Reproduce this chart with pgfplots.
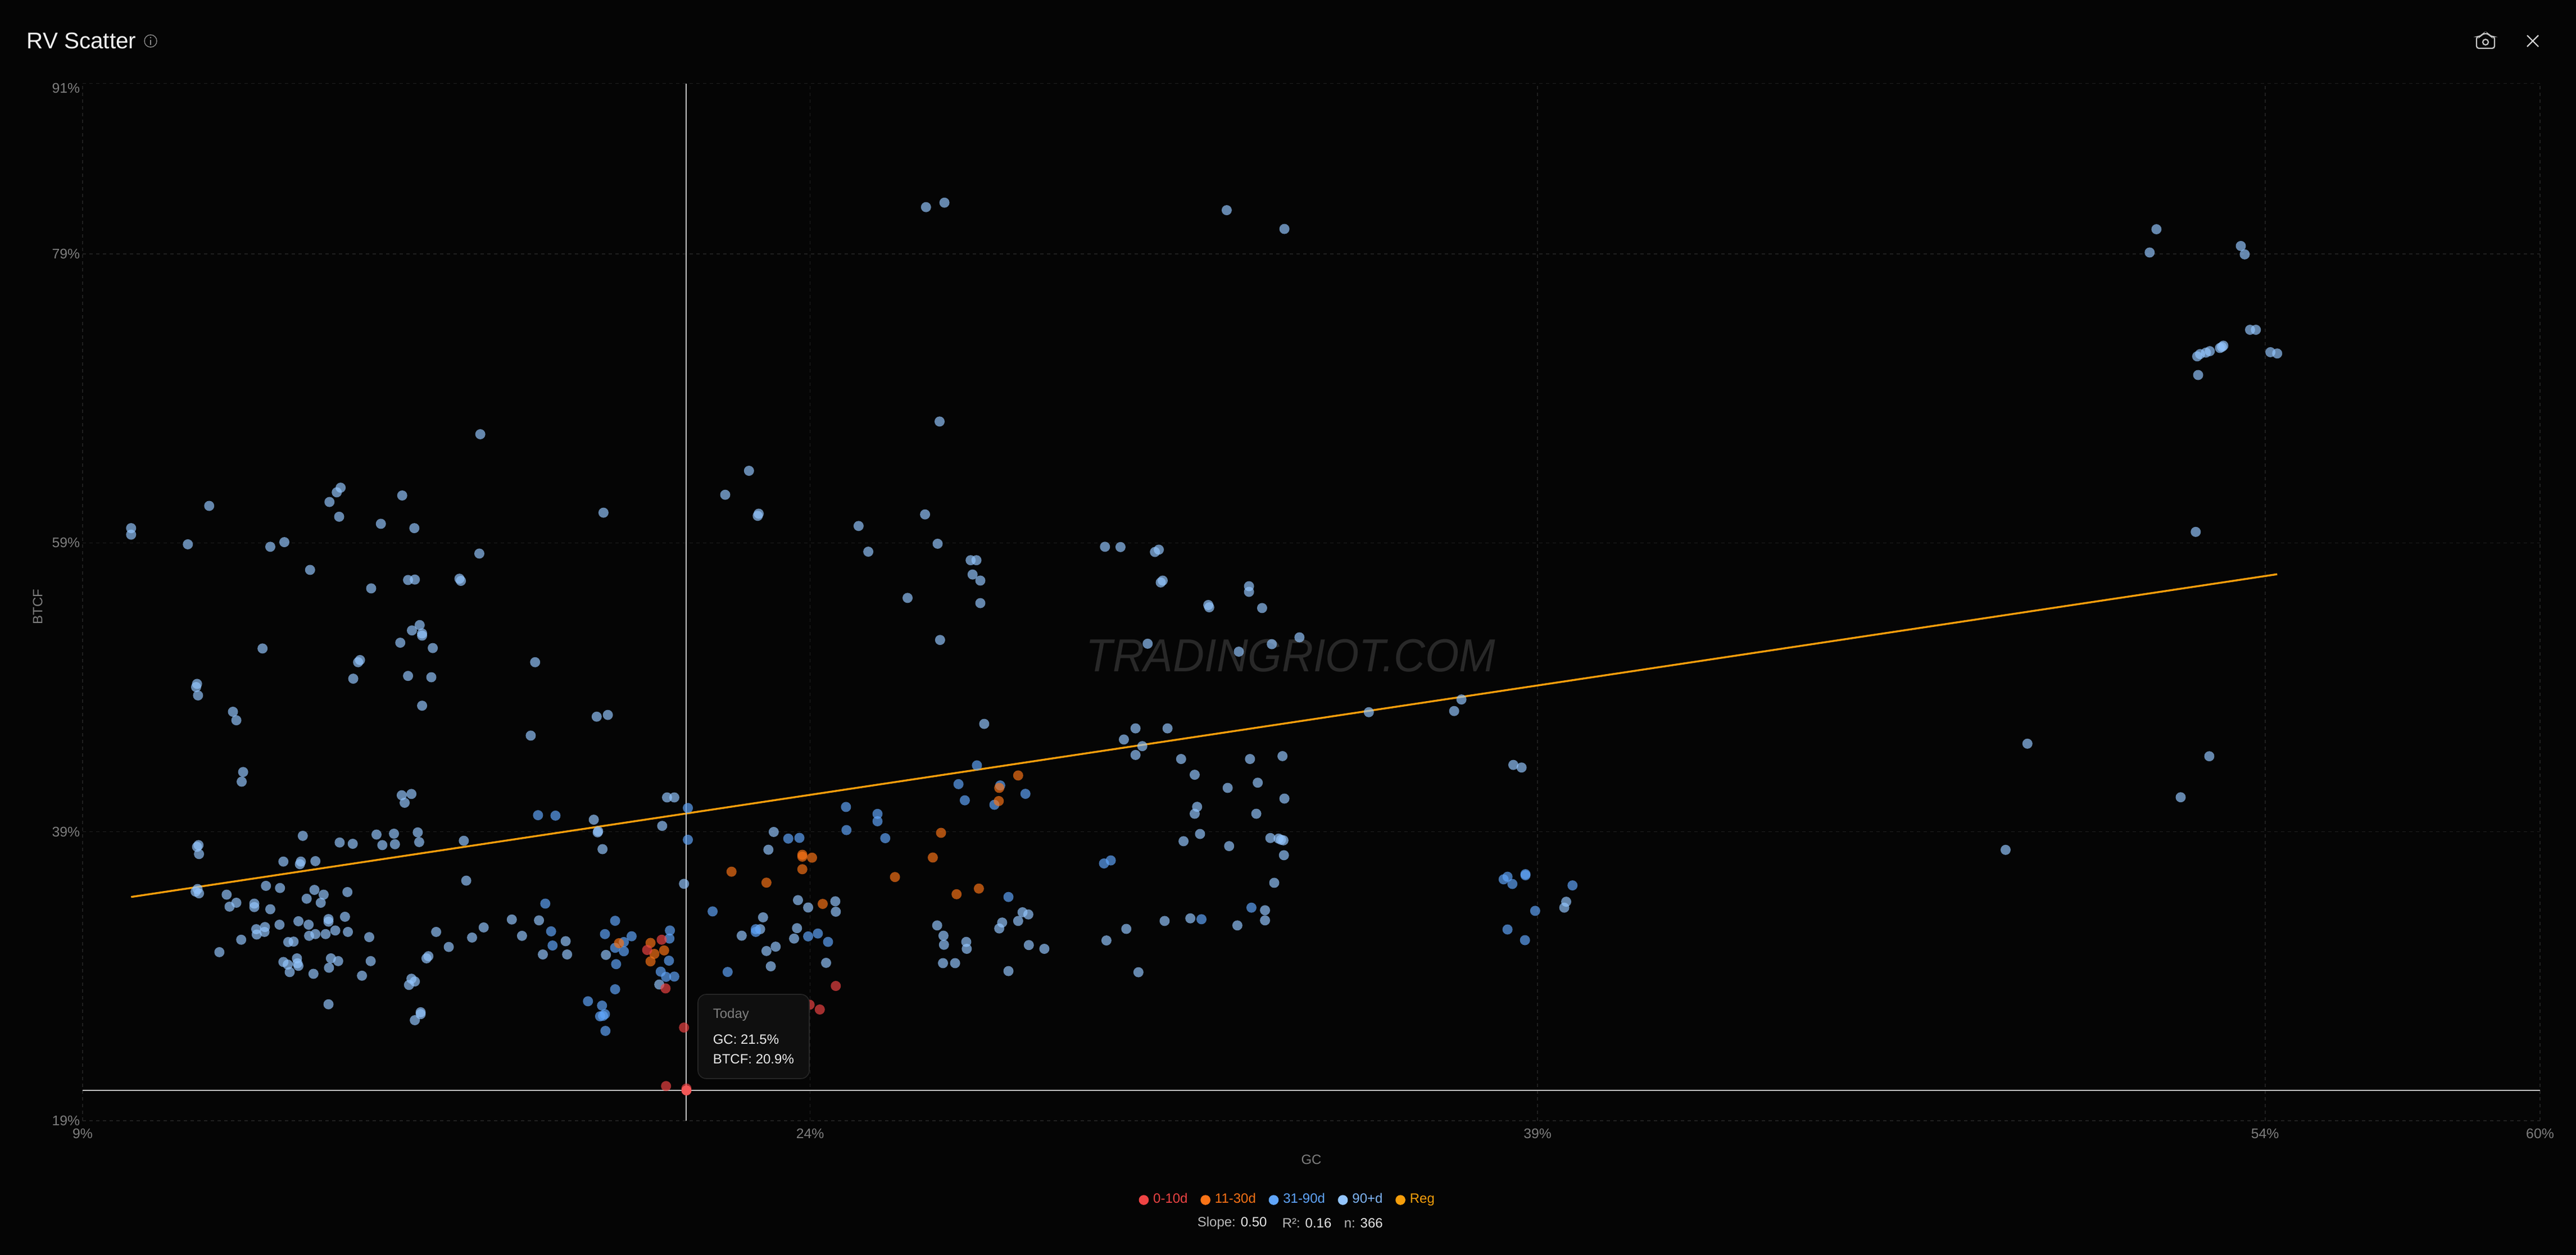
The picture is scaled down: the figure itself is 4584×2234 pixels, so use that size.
\documentclass[border=0pt]{standalone}
\usepackage{pgfplots}
\pgfplotsset{compat=1.18}
\usepackage{pgfplotstable}
\usepackage{fontspec}
\setmainfont{Liberation Sans}
\definecolor{bgc}{HTML}{050505}
\definecolor{gridc}{HTML}{202020}
\definecolor{tickc}{HTML}{7E7E7E}
\definecolor{cRed}{HTML}{EF4444}
\definecolor{cOrg}{HTML}{F97316}
\definecolor{cBlu}{HTML}{60A5FA}
\definecolor{cLig}{HTML}{93C5FD}
\definecolor{cReg}{HTML}{F59E0B}
\definecolor{cLigT}{HTML}{7FB5F5}
\definecolor{crossc}{HTML}{C4C4C4}

\pgfplotstableread{
x y
17.20 66.52
14.32 62.82
14.24 62.50
14.09 61.83
14.29 60.81
15.59 62.28
15.15 60.32
15.84 60.02
19.74 61.09
11.61 61.56
10.00 60.02
10.00 59.57
11.17 58.90
12.87 58.73
13.16 59.05
17.18 58.26
13.69 57.13
15.71 56.43
15.85 56.46
14.95 55.85
16.77 56.52
16.80 56.37
15.95 53.31
15.79 52.94
16.00 52.73
16.00 52.58
15.55 52.09
16.22 51.72
12.71 51.69
14.72 50.89
14.68 50.74
18.33 50.74
15.71 49.79
16.19 49.70
14.58 49.60
11.36 49.24
11.34 49.02
11.38 48.44
16.00 47.73
19.60 46.97
19.83 47.09
12.10 47.31
12.17 46.72
18.24 45.66
12.31 43.14
12.28 42.47
15.58 41.53
15.78 41.62
15.64 41.01
21.05 41.38
21.20 41.38
19.54 39.84
20.95 39.41
19.63 39.04
19.62 38.96
13.54 38.72
15.06 38.81
15.42 38.87
15.91 38.96
15.94 38.29
16.86 38.38
14.57 38.17
14.30 38.26
15.18 38.08
15.44 38.14
19.72 37.80
11.39 38.08
11.36 37.96
11.40 37.46
13.14 36.94
13.50 36.94
13.48 36.76
13.80 36.97
16.91 35.62
12.78 35.26
13.07 35.11
13.78 34.98
13.97 34.65
14.46 34.83
11.37 35.04
11.33 34.86
11.40 34.74
11.97 34.65
13.62 34.37
12.17 34.09
12.54 34.03
13.91 34.09
12.03 33.82
12.54 33.79
12.87 33.64
14.41 33.12
14.07 32.96
14.07 32.78
13.45 32.81
13.06 32.57
13.66 32.57
12.76 32.41
12.58 32.26
12.75 32.07
12.59 31.89
13.67 31.80
13.80 31.92
14.01 31.92
14.21 32.17
14.47 32.07
14.91 31.71
12.27 31.53
13.24 31.37
13.35 31.40
11.82 30.67
16.29 32.07
16.55 31.03
17.03 31.68
17.27 32.38
17.85 32.93
18.06 31.80
18.41 32.87
18.96 31.43
18.49 30.51
18.99 30.51
13.42 30.24
14.12 30.24
14.27 30.05
14.94 30.05
13.14 29.99
13.23 29.81
13.43 29.90
13.45 29.72
14.08 29.59
13.27 29.29
13.76 29.17
14.76 29.04
16.13 30.39
16.09 30.24
15.78 28.83
15.85 28.64
15.73 28.40
14.07 27.06
15.97 26.51
15.97 26.38
15.85 25.96
19.79 30.48
20.89 28.43
21.40 35.40
23.25 38.99
23.14 37.76
23.75 34.27
23.96 33.76
24.52 34.19
24.53 33.47
23.03 33.08
28.38 33.43
28.50 33.28
28.29 32.83
27.96 32.72
27.90 32.31
26.62 32.52
26.75 31.81
26.76 31.18
27.22 31.38
27.23 30.90
26.74 29.91
26.99 29.91
28.51 31.16
28.83 30.90
28.09 29.36
30.11 31.48
22.59 31.81
22.97 32.26
23.73 32.33
23.67 31.61
23.29 31.05
23.10 30.75
23.19 29.69
24.33 29.93
26.39 82.24
26.77 82.55
32.59 82.03
33.78 80.73
26.67 67.40
22.74 63.99
22.25 62.33
22.94 61.02
22.92 60.87
25.00 60.17
25.20 58.39
26.37 60.97
26.63 58.94
27.31 57.80
27.43 57.80
27.35 56.81
27.51 56.39
27.51 54.83
26.01 55.19
26.68 52.28
30.08 58.73
30.40 58.71
31.11 58.37
31.19 58.53
31.23 56.26
31.27 56.39
32.21 54.70
32.23 54.54
33.05 56.00
33.05 55.61
33.32 54.49
34.09 52.46
33.52 51.99
32.84 51.47
30.96 52.02
27.59 46.47
30.71 46.16
31.37 46.16
30.47 45.39
30.85 44.93
30.71 44.32
35.52 47.28
37.28 47.36
37.43 48.16
31.65 44.04
33.07 44.04
33.74 44.24
31.93 42.95
33.23 42.40
32.61 42.04
33.78 41.30
31.98 40.73
31.93 40.25
33.20 40.25
32.04 38.85
31.70 38.35
32.64 38.01
33.49 38.57
33.66 38.53
33.71 38.45
33.76 38.41
33.77 37.38
33.57 35.47
33.38 33.57
33.38 32.87
32.81 32.52
31.84 33.01
31.31 32.83
30.52 32.28
30.77 29.28
38.50 43.63
38.67 43.45
39.59 34.16
39.55 33.75
51.76 80.71
51.62 79.10
53.50 79.55
53.58 78.97
53.69 73.75
53.81 73.75
53.14 72.65
53.07 72.49
53.11 72.56
52.86 72.27
52.78 72.17
52.66 72.07
52.60 71.91
54.11 72.20
54.25 72.11
52.62 70.62
52.57 59.76
49.10 45.10
52.85 44.23
52.26 41.39
48.65 37.75
}\tblLong

\pgfplotstableread{
x y
18.39 40.15
18.75 40.12
18.54 34.03
18.66 32.11
18.69 31.13
19.98 32.84
19.77 31.92
20.32 31.77
20.16 31.37
19.98 30.97
20.16 30.73
20.00 29.84
19.98 28.10
19.42 27.27
19.71 26.97
19.67 26.23
19.77 26.38
19.73 26.26
19.78 25.22
21.11 32.17
21.10 31.61
21.09 30.08
20.92 29.32
21.03 28.96
21.20 28.98
21.48 40.65
21.48 38.45
21.99 33.49
23.55 38.53
23.78 38.58
24.74 40.72
24.75 39.12
25.39 40.24
25.39 39.73
25.55 38.56
27.06 42.30
27.44 43.60
27.19 41.18
27.92 42.21
27.80 40.87
28.44 41.63
28.09 34.49
30.06 36.81
30.20 37.02
22.88 32.26
22.88 32.07
23.96 31.76
24.16 31.96
24.37 31.38
22.30 29.30
32.07 32.95
33.10 33.75
38.30 35.71
38.38 35.89
38.48 35.39
38.75 36.07
38.75 35.99
39.72 35.29
38.95 33.53
38.38 32.24
38.74 31.50
}\tblMid

\pgfplotstableread{
x y
20.06 31.29
20.71 31.31
20.79 30.55
20.99 30.79
20.71 30.03
28.29 42.90
27.90 42.04
27.89 41.13
26.70 38.93
26.53 37.22
25.75 35.87
27.02 34.68
27.48 35.07
23.84 37.41
23.84 37.28
24.04 37.21
23.84 36.41
23.10 35.48
22.38 36.24
24.26 34.01
}\tblShort

\pgfplotstableread{
x y
20.94 31.53
20.64 30.82
21.02 28.16
21.03 21.40
24.53 28.33
24.20 26.70
23.99 27.03
21.40 25.45
21.45 21.23
}\tblNear

\pgfplotstableread{
x y
21.45 21.10
}\tblToday

\begin{document}
\begin{tikzpicture}[x=0.25pt,y=-0.25pt]
\fill[bgc] (0,0) rectangle (4584,2234);
% watermark, behind the points
\node[text=white!14!bgc,font=\fontsize{20.6}{24}\selectfont\itshape,inner sep=0pt,anchor=center] at (2297,1167) {\scalebox{0.94}[1]{TRADINGRIOT.COM}};
\begin{axis}[
  at={(36.75pt,-498.75pt)},anchor=south west,
  scale only axis,width=1093.25pt,height=461.6pt,
  xmin=9,xmax=59.67,ymin=19,ymax=90.8,
  xtick={9,24,39,54,59.67},xticklabels={9\%,24\%,39\%,54\%,60\%},
  ytick={19,39,59,79,90.8},yticklabels={19\%,39\%,59\%,79\%,\raisebox{-2pt}[4.5pt][0pt]{91\%}},
  grid=major,
  major grid style={gridc,dash pattern=on 1.5pt off 1.5pt,line width=0.4pt},
  axis line style={draw=none},tick style={draw=none},
  ticklabel style={font=\fontsize{6.2}{7.5}\selectfont,text=tickc},
  xticklabel style={inner sep=0pt,yshift=-3.3pt},
  yticklabel style={inner sep=0pt,xshift=-1pt},
  xlabel={GC},ylabel={BTCF},
  every axis x label/.style={at={(axis description cs:0.5,-0.0374)},anchor=center,font=\fontsize{6}{7}\selectfont,text=tickc},
  every axis y label/.style={at={(axis description cs:-0.0183,0.4956)},anchor=center,rotate=90,font=\fontsize{6}{7}\selectfont,text=tickc},
  legend style={at={(axis description cs:0.4909,-0.0764)},anchor=center,draw=none,fill=none,legend columns=5,font=\fontsize{6}{7.5}\selectfont,inner sep=0pt,
    /tikz/every even column/.style={column sep=3.7pt}},
  legend cell align=left,
  legend image code/.code={\fill[#1] (2pt,0pt) circle (2pt);},
  dot/.style={only marks,mark=*,mark size=2.25pt,forget plot,mark options={draw=#1,draw opacity=0,line width=0pt,fill=#1,fill opacity=0.68}},
]
\addplot[dot=cLig] table {\tblLong};
\addplot[dot=cBlu] table {\tblMid};
\addplot[dot=cOrg] table {\tblShort};
\addplot[dot=cRed] table {\tblNear};
\addplot[only marks,mark=*,mark size=2.25pt,forget plot,mark options={draw=cRed,draw opacity=0,line width=0pt,fill=cRed!90!white}] table {\tblToday};
\addplot[forget plot,cReg,line width=0.85pt] coordinates {(10.00,34.49) (54.25,56.83)};
\addplot[forget plot,crossc,line width=0.5pt] coordinates {(21.45,19) (21.45,90.8)};
\addplot[forget plot,crossc,line width=0.5pt] coordinates {(9,21.10) (59.67,21.10)};
\addlegendimage{color=cRed}\addlegendentry{\textcolor{cRed}{0-10d}}
\addlegendimage{color=cOrg}\addlegendentry{\textcolor{cOrg}{11-30d}}
\addlegendimage{color=cBlu}\addlegendentry{\textcolor{cBlu}{31-90d}}
\addlegendimage{color=cLig}\addlegendentry{\textcolor{cLigT}{90+d}}
\addlegendimage{color=cReg}\addlegendentry{\textcolor{cReg}{Reg}}
\end{axis}
% title and controls
\node[anchor=west,inner sep=0pt,text=white!94!black,font=\fontsize{10.1}{12}\selectfont] at (47,73) {RV Scatter};
\draw[white!55!black,line width=0.35pt] (268,73) circle (11);
\fill[white!55!black] (268,67) circle (1.4);
\draw[white!55!black,line width=0.4pt] (268,71) -- (268,80);
\draw[white!78!black,line width=0.55pt,rounded corners=1pt] (4407,65) -- (4414,65) -- (4418,60) -- (4428,60) -- (4432,65) -- (4439,65) -- (4439,86) -- (4407,86) -- cycle;
\draw[white!78!black,line width=0.55pt] (4423,75) circle (5);
\draw[white!82!black,line width=0.55pt] (4497,63) -- (4517,83) (4517,63) -- (4497,83);
% tooltip
\draw[fill=white!6!black,draw=white!15!black,line width=0.4pt,rounded corners=3.7pt] (1242,1770) rectangle (1440,1920);
\node[anchor=west,inner sep=0pt,text=white!50!black,font=\fontsize{6}{7.5}\selectfont] at (1268,1806) {Today};
\node[anchor=west,inner sep=0pt,text=white!92!black,font=\fontsize{6}{7.5}\selectfont] at (1268,1850) {GC: 21.5\%};
\node[anchor=west,inner sep=0pt,text=white!92!black,font=\fontsize{6}{7.5}\selectfont] at (1268,1885) {BTCF: 20.9\%};
% statistics
\node[anchor=west,inner sep=0pt,font=\fontsize{6}{7.5}\selectfont,text=white!72!black] at (2130,2177) {Slope: \textcolor{white!90!black}{0.50}};
\node[anchor=west,inner sep=0pt,font=\fontsize{6}{7.5}\selectfont,text=white!72!black] at (2281,2177) {R²: \textcolor{white!90!black}{0.16}};
\node[anchor=west,inner sep=0pt,font=\fontsize{6}{7.5}\selectfont,text=white!72!black] at (2391,2177) {n: \textcolor{white!90!black}{366}};
\end{tikzpicture}
\end{document}
